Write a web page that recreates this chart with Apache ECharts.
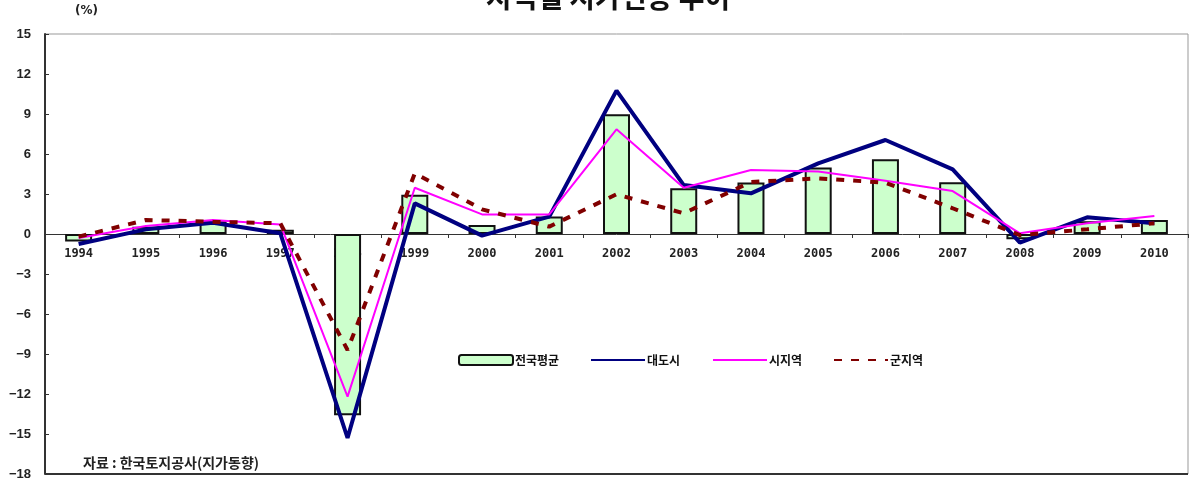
<!DOCTYPE html>
<html><head><meta charset="utf-8">
<script src="https://cdn.jsdelivr.net/npm/echarts@6/dist/echarts.min.js"></script>
<style>html,body{margin:0;padding:0;background:#fff}#c{width:1189px;height:481px}</style>
</head><body><div id="c"></div>
<script>
const years = ['1994','1995','1996','1997','1998','1999','2000','2001','2002','2003','2004','2005','2006','2007','2008','2009','2010'];
const national = [-0.57, 0.55, 0.95, 0.31, -13.6, 2.94, 0.67, 1.32, 8.98, 3.43, 3.86, 4.98, 5.61, 3.88, -0.4, 0.96, 1.05];
const metro = [-0.75, 0.35, 0.85, 0.05, -15.3, 2.3, -0.12, 1.3, 10.75, 3.67, 3.05, 5.3, 7.05, 4.85, -0.65, 1.25, 0.8];
const city = [-0.3, 0.6, 1.05, 0.72, -12.2, 3.47, 1.47, 1.47, 7.85, 3.47, 4.8, 4.68, 4.0, 3.22, 0.05, 0.8, 1.35];
const county = [-0.2, 1.05, 0.92, 0.8, -8.7, 4.55, 1.85, 0.55, 2.98, 1.55, 3.9, 4.17, 3.85, 1.93, -0.08, 0.35, 0.8];
const yTicks = {min: -18, max: 15, interval: 3};
const names = ['전국평균', '대도시', '시지역', '군지역'];

const W = 1189, H = 481;
const gridTop = 34, gridBottom = 7;
const plotH = H - gridTop - gridBottom;
// shift the category axis up from the grid bottom to the zero level
const zeroOffset = -plotH * (0 - yTicks.min) / (yTicks.max - yTicks.min);

const chart = echarts.init(document.getElementById('c'), null, {renderer: 'canvas'});
const legendBase = {
  top: 354, itemWidth: 54, itemHeight: 10, itemGap: 0, padding: 0,
  textStyle: {fontFamily: 'Noto Sans CJK KR', fontWeight: 'bold', fontSize: 12, color: '#111', padding: [0, 0, 0, -3]}
};
chart.setOption({
  animation: false,
  backgroundColor: '#fff',
  grid: {left: 45, right: 1, top: gridTop, bottom: gridBottom, show: true, borderColor: '#999', borderWidth: 1, outerBoundsMode: 'none', containLabel: false},
  graphic: [
    {type: 'text', x: 608, y: 11, style: {text: '지역별 지가변동 추이', font: 'bold 28px "Noto Sans CJK KR"', fill: '#111', align: 'center', verticalAlign: 'bottom'}},
    {type: 'text', x: 75, y: 5, style: {text: '(%)', font: 'bold 12px "DejaVu Sans"', fill: '#222'}},
    {type: 'text', x: 83, y: 456, style: {text: '자료 : 한국토지공사(지가동향)', font: 'bold 14px "Noto Sans CJK KR"', fill: '#222'}}
  ],
  legend: [
    Object.assign({}, legendBase, {left: 458, data: [names[0]]}),
    Object.assign({}, legendBase, {left: 590, data: [names[1]], itemStyle: {opacity: 0}}),
    Object.assign({}, legendBase, {left: 712, data: [names[2]], itemStyle: {opacity: 0}}),
    Object.assign({}, legendBase, {left: 833, data: [names[3]], itemStyle: {opacity: 0}})
  ],
  xAxis: {
    type: 'category', data: years, boundaryGap: true, position: 'bottom', offset: zeroOffset,
    axisLine: {onZero: false, lineStyle: {color: '#333', width: 1}},
    axisTick: {show: true, length: 4, lineStyle: {color: '#333'}},
    axisLabel: {margin: 14, fontFamily: 'DejaVu Sans Mono', fontWeight: 'bold', fontSize: 12, color: '#222'}
  },
  yAxis: {
    type: 'value', min: yTicks.min, max: yTicks.max, interval: yTicks.interval,
    splitLine: {show: false},
    axisLine: {show: true, lineStyle: {color: '#333', width: 2}},
    axisTick: {show: true, inside: true, length: 4, lineStyle: {color: '#333'}},
    axisLabel: {margin: 14, fontFamily: 'Liberation Sans', fontWeight: 'bold', fontSize: 13, color: '#222',
      formatter: v => v < 0 ? '\u2212' + Math.abs(v) : String(v)}
  },
  series: [
    {name: names[0], type: 'bar', data: national, barWidth: 27,
     itemStyle: {color: '#CCFFCC', borderColor: '#111', borderWidth: 2},
     markLine: {silent: true, symbol: 'none', label: {show: false},
       lineStyle: {color: '#333', width: 2, type: 'solid'}, data: [{yAxis: yTicks.min}]}},
    {name: names[1], type: 'line', data: metro, symbol: 'none',
     lineStyle: {color: '#000080', width: 4}, itemStyle: {color: '#000080'}},
    {name: names[2], type: 'line', data: city, symbol: 'none',
     lineStyle: {color: '#FF00FF', width: 2}, itemStyle: {color: '#FF00FF'}},
    {name: names[3], type: 'line', data: county, symbol: 'none',
     lineStyle: {color: '#800000', width: 4, type: [8, 9], cap: 'butt'}, itemStyle: {color: '#800000'}}
  ]
});
</script></body></html>
